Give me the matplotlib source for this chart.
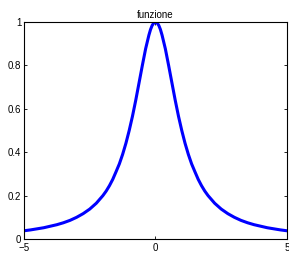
import matplotlib
matplotlib.use("Agg")
import matplotlib.pyplot as plt
import numpy as np

# values (right half, symmetric about 0)
x_half = [0, 0.0625, 0.125, 0.1875, 0.25, 0.375, 0.5, 0.625, 0.75, 0.875, 1,
          1.125, 1.25, 1.375, 1.5, 1.625, 1.75, 1.875, 2, 2.25, 2.5,
          2.75, 3, 3.25, 3.5, 3.75, 4, 4.25, 4.5, 4.75, 5]
y_half = [1.0, 0.996, 0.985, 0.966, 0.94, 0.877, 0.80, 0.72, 0.64, 0.566, 0.50,
          0.441, 0.39, 0.346, 0.31, 0.275, 0.246, 0.221, 0.20, 0.165, 0.138,
          0.117, 0.10, 0.086, 0.075, 0.066, 0.059, 0.052, 0.047, 0.042, 0.038]
x_ticks = [-5, 0, 5]
y_ticks = [0, 0.2, 0.4, 0.6, 0.8, 1]
title = "funzione"

x = np.concatenate([-np.array(x_half[:0:-1]), x_half])
y = np.concatenate([np.array(y_half[:0:-1]), y_half])

plt.rcParams['font.family'] = ['Liberation Sans', 'DejaVu Sans']
fig = plt.figure(figsize=(2.89, 2.54), dpi=100)
ax = fig.add_axes([0.083, 0.059, 0.910, 0.854])
ax.plot(x, y, color=(0, 0, 1), lw=2.2, solid_joinstyle='round',
        solid_capstyle='round')
ax.set_xlim(-5, 5)
ax.set_ylim(0, 1)
ax.set_xticks(x_ticks)
ax.set_yticks(y_ticks)
ax.set_yticklabels(["0", "0.2", "0.4", "0.6", "0.8", "1"])
ax.tick_params(direction='in', length=2.5, width=0.6, labelsize=7, pad=2,
               top=True, right=True)
ax.tick_params(axis='x', pad=3)
for s in ax.spines.values():
    s.set_linewidth(0.8)
ax.set_title(title, fontsize=7, pad=3)
fig.savefig("out.png", dpi=100)
